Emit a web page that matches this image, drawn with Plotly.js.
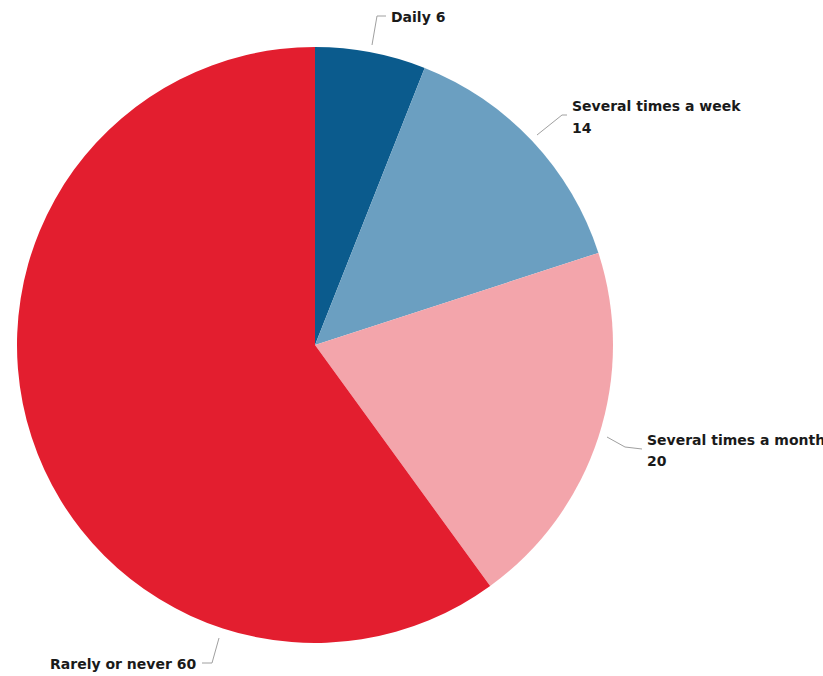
<!DOCTYPE html>
<html>
<head>
<meta charset="utf-8">
<script src="https://cdn.plot.ly/plotly-3.0.1.min.js"></script>
<style>html,body{margin:0;padding:0;background:#fff;}#chart{width:823px;height:676px;}</style>
</head>
<body>
<div id="chart"></div>
<script>
const categories = ["Daily", "Several times a week", "Several times a month", "Rarely or never"];
const values = [6, 14, 20, 60];
const colors = ["#0b5b8d", "#6b9fc1", "#f3a5ab", "#e31e2f"];

const W = 823, H = 676;
const px = x => x / W;
const py = y => 1 - y / H;

// pie geometry (pixels)
const cx = 315, cy = 345, r = 298;

const trace = {
  type: "pie",
  labels: categories,
  values: values,
  sort: false,
  direction: "clockwise",
  rotation: 0,
  marker: {colors: colors, line: {width: 0}},
  textinfo: "none",
  hoverinfo: "label+value",
  automargin: false,
  showlegend: false,
  domain: {x: [px(cx - r), px(cx + r)], y: [py(cy + r), py(cy - r)]}
};

const fontSpec = {family: "DejaVu Sans, Verdana, sans-serif", size: 14, color: "#1a1a1a", weight: "bold"};

// label placements (pixels): text lines and leader path
const labelPos = [
  {tx: 389, lines: [[17, categories[0] + " " + values[0]]], path: [[372, 45], [377, 16], [386, 16]]},
  {tx: 570, lines: [[106, categories[1]], [128, String(values[1])]], path: [[537, 135], [562, 115], [567, 115]]},
  {tx: 645, lines: [[440, categories[2]], [461, String(values[2])]], path: [[607, 437], [625, 447], [642, 449]]},
  {tx: 48, lines: [[664, categories[3] + " " + values[3]]], path: [[219, 638], [212, 663], [202, 663]]}
];

const annotations = [];
labelPos.forEach(l => l.lines.forEach(([y, t]) => annotations.push({
  xref: "paper", yref: "paper",
  x: px(l.tx), y: py(y),
  xanchor: "left", yanchor: "middle",
  align: "left",
  text: "<b>" + t + "</b>",
  showarrow: false,
  font: fontSpec
})));

const shapes = labelPos.map(l => ({
  type: "path",
  xref: "paper", yref: "paper",
  path: "M " + l.path.map(p => px(p[0]) + "," + py(p[1])).join(" L "),
  line: {color: "#a0a0a0", width: 1}
}));

const layout = {
  width: W, height: H,
  margin: {l: 0, r: 0, t: 0, b: 0},
  paper_bgcolor: "#ffffff",
  plot_bgcolor: "#ffffff",
  annotations: annotations,
  shapes: shapes,
  showlegend: false
};

Plotly.newPlot("chart", [trace], layout, {displayModeBar: false, staticPlot: true});
</script>
</body>
</html>
